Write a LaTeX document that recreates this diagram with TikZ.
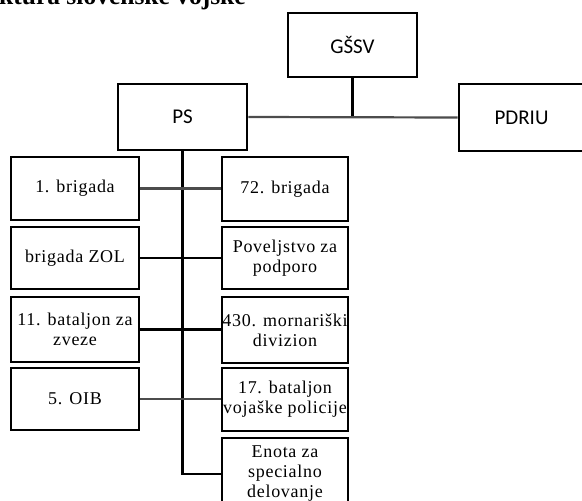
\documentclass[tikz,border=0pt]{standalone}
\usepackage{fontspec}
\setmainfont{Liberation Serif}
\newfontfamily\boxserif{Liberation Serif}[LetterSpace=4]
\newfontfamily\boxsans{Carlito}
\begin{document}
\begin{tikzpicture}[x=1pt,y=-1pt,
  topbox/.style={draw=black, line width=2.6pt, fill=white, inner sep=0pt,
     minimum width=129pt, minimum height=64pt, font=\boxsans\fontsize{21}{24}\selectfont},
  unitbox/.style={draw=black, line width=2.6pt, fill=white, inner sep=0pt, align=center,
     minimum height=62pt, font=\boxserif\fontsize{18}{20}\selectfont},
  leftbox/.style={unitbox, minimum width=128pt},
  rightbox/.style={unitbox, minimum width=126pt},
  blackline/.style={draw=black, line width=2.6pt},
  greyline/.style={draw=black!70, line width=2.2pt}
]
\useasboundingbox (0,0) rectangle (582,501);
\clip (0,0) rectangle (582,501);
\node[anchor=base west, inner sep=0pt, font=\bfseries\fontsize{25.5}{28}\selectfont] (title) at (-1,4) {ktura slovenske vojske};

% top level
\node[topbox] (gssv) at (352.5,45) {GŠSV};
\node[topbox, minimum height=66pt] (ps) at (182.5,117) {PS};
\node[topbox, minimum width=125pt, minimum height=67pt] (pdriu) at (521.5,117.5) {PDRIU};

% left column
\node[leftbox, minimum height=63pt] (l1) at (75,188.5) {1. brigada};
\node[leftbox] (l2) at (75,258) {brigada ZOL};
\node[leftbox, minimum height=65pt] (l3) at (75,329.5) {11. bataljon za\\zveze};
\node[leftbox] (l4) at (75,399) {5. OIB};

% right column
\node[rightbox, minimum height=64pt] (r1) at (285,189) {72. brigada};
\node[rightbox] (r2) at (285,258) {Poveljstvo za\\podporo};
\node[rightbox, minimum height=66pt] (r3) at (285,330) {430. mornariški\\divizion};
\node[rightbox, minimum height=63pt] (r4) at (285,399.5) {17. bataljon\\vojaške policije};
\node[rightbox, minimum height=72pt] (r5) at (285,474) {Enota za\\specialno\\delovanje};

% connectors
\coordinate (j1) at (gssv.south |- ps.east);
\draw[blackline] (gssv.south) -- (j1);
\draw[greyline] (ps.east) -- (pdriu.west);
\coordinate (tb) at (ps.south |- r5.west);
\draw[blackline] (ps.south) -- (tb) -- (r5.west);
\draw[greyline] (l1.east) -- (l1.east -| r1.west);
\draw[blackline] (l2.east) -- (l2.east -| r2.west);
\draw[blackline] (l3.east) -- (l3.east -| r3.west);
\draw[greyline] (l4.east) -- (l4.east -| r4.west);
\end{tikzpicture}
\end{document}
